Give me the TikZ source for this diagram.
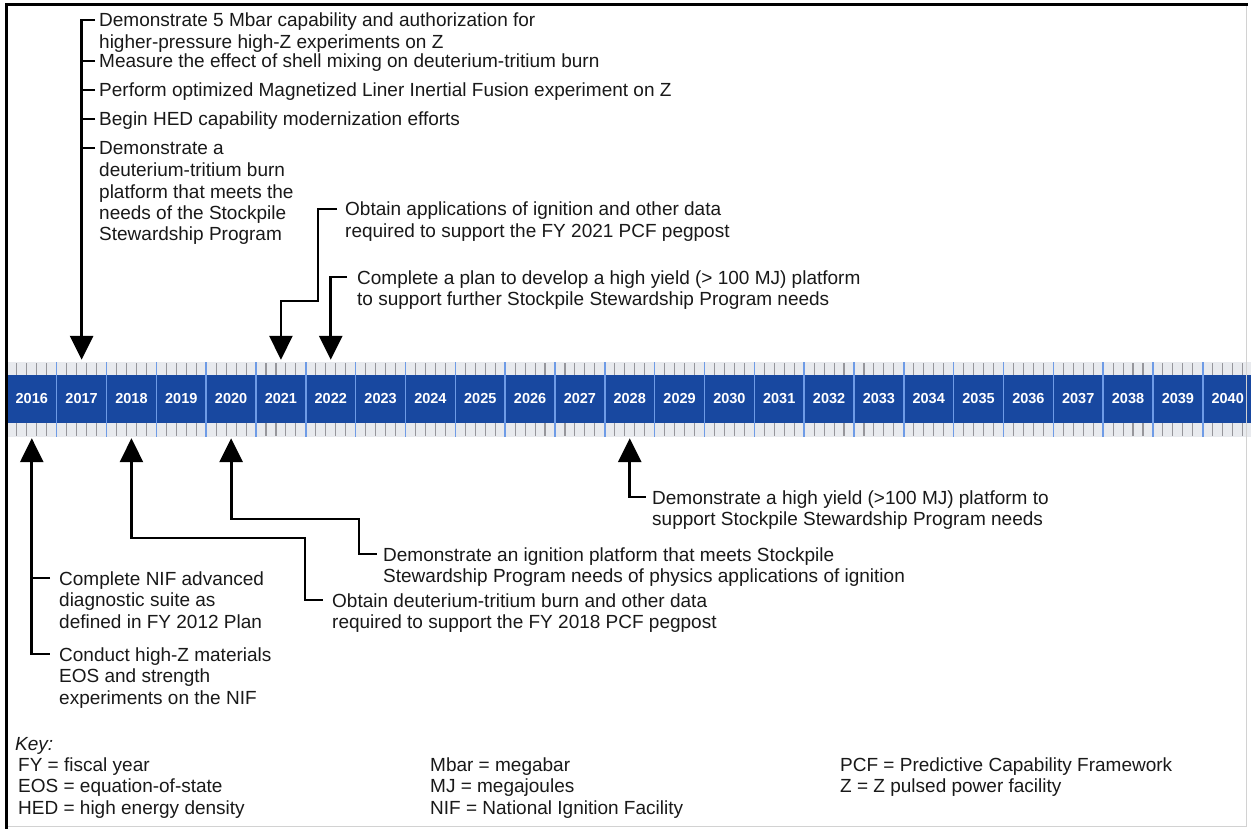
\documentclass[tikz,border=0pt]{standalone}
\usepackage{fontspec}
\setmainfont{Liberation Sans}
\usetikzlibrary{arrows.meta,calc}
\definecolor{barblue}{RGB}{24,72,160}
\definecolor{divblue}{RGB}{110,155,230}
\definecolor{inkc}{RGB}{25,25,25}
\definecolor{stripc}{RGB}{232,234,238}
\definecolor{tickc}{RGB}{150,150,155}
\begin{document}
\begin{tikzpicture}[x=1pt,y=-1pt,
  lbl/.style={anchor=north west, inner sep=0pt, align=left, text=inkc,
    font=\fontsize{19}{21.5}\selectfont, yshift=8.25pt},
  yearcell/.style={fill=barblue, text=white, inner sep=0pt,
    font=\fontsize{14.5}{16}\bfseries\selectfont,
    minimum width=49.83pt, minimum height=48pt},
  conn/.style={draw=black, line width=2.8pt, line join=miter},
  headend/.style={-{Triangle[length=24pt,width=23pt]}},
  headstart/.style={{Triangle[length=24pt,width=23pt]}-},
]
\useasboundingbox (0,0) rectangle (1251,829);
\fill[white] (0,0) rectangle (1251,829);

% tick strips above and below the year bar
\fill[stripc] (7,362) rectangle (1251,375);
\fill[stripc] (7,423) rectangle (1251,437);
\foreach \i in {0,...,24} {
  \foreach \k in {1,...,4} {
    \draw[tickc, line width=1.1pt] ({6.87+49.83*(\i+0.2*\k)},363) -- ++(0,12);
    \draw[tickc, line width=1.1pt] ({6.87+49.83*(\i+0.2*\k)},423) -- ++(0,13);
  }
}

% year cells
\foreach \i in {0,...,24} {
  \pgfmathtruncatemacro\yr{2016+\i}
  \node[yearcell] (y\yr) at ({6.87+49.83*(\i+0.5)},399) {\yr};
}
\foreach \i in {1,...,24}
  \draw[divblue, line width=1.5pt] ({6.87+49.83*\i},362) -- ({6.87+49.83*\i},437);

% arrow tip points
\foreach \yr in {2017,2021,2022}
  \coordinate (d\yr) at ($(y\yr.north)+(0,-15)$);
\foreach \yr in {2016,2018,2020,2028}
  \coordinate (u\yr) at ($(y\yr.south)+(0,15)$);

% milestones above the bar
\node[lbl] (T1) at (99,20) {\strut Demonstrate 5 Mbar capability and authorization for\\higher-pressure high-Z experiments on Z};
\node[lbl] (T2) at (99,61) {\strut Measure the effect of shell mixing on deuterium-tritium burn};
\node[lbl] (T3) at (99,90) {\strut Perform optimized Magnetized Liner Inertial Fusion experiment on Z};
\node[lbl] (T4) at (99,119) {\strut Begin HED capability modernization efforts};
\node[lbl] (T5) at (99,148) {\strut Demonstrate a\\deuterium-tritium burn\\platform that meets the\\needs of the Stockpile\\Stewardship Program};
\node[lbl] (T6) at (345,209) {\strut Obtain applications of ignition and other data\\required to support the FY 2021 PCF pegpost};
\node[lbl] (T7) at (357,277) {\strut Complete a plan to develop a high yield (> 100 MJ) platform\\to support further Stockpile Stewardship Program needs};

\foreach \n/\d in {T1/4,T2/4,T3/4,T4/4,T5/4,T6/8,T7/10}
  \coordinate (\n w) at ($(\n.north west)+(-\d,8.25)$);

\draw[conn,headend] (T1w) -| (d2017);
\foreach \n in {T2,T3,T4,T5}
  \draw[conn] (\n w) -- (\n w -| d2017);
\coordinate (e2021) at (318,301);
\draw[conn,headend] (T6w) -| (e2021) -| (d2021);
\draw[conn,headend] (T7w) -| (d2022);

% milestones below the bar
\node[lbl] (B1) at (652,497) {\strut Demonstrate a high yield (>100 MJ) platform to\\support Stockpile Stewardship Program needs};
\node[lbl] (B2) at (383,554) {\strut Demonstrate an ignition platform that meets Stockpile\\Stewardship Program needs of physics applications of ignition};
\node[lbl] (B3) at (332,600) {\strut Obtain deuterium-tritium burn and other data\\required to support the FY 2018 PCF pegpost};
\node[lbl] (B4) at (59,578) {\strut Complete NIF advanced\\diagnostic suite as\\defined in FY 2012 Plan};
\node[lbl] (B5) at (59,654) {\strut Conduct high-Z materials\\EOS and strength\\experiments on the NIF};

\foreach \n/\d in {B1/6,B2/6,B3/9,B4/9,B5/9}
  \coordinate (\n w) at ($(\n.north west)+(-\d,8.25)$);

\coordinate (e2020) at (359,519);
\coordinate (e2018) at (305,538);
\draw[conn,headstart] (u2028) |- (B1w);
\draw[conn,headstart] (u2020) |- (e2020) |- (B2w);
\draw[conn,headstart] (u2018) |- (e2018) |- (B3w);
\draw[conn,headstart] (u2016) |- (B5w);
\draw[conn] (B4w) -- (B4w -| u2016);

% key
\node[lbl] (K0) at (15,743) {\strut\itshape Key:};
\node[lbl] (K1) at (18,764) {\strut FY = fiscal year\\EOS = equation-of-state\\HED = high energy density};
\node[lbl] (K2) at (430,764) {\strut Mbar = megabar\\MJ = megajoules\\NIF = National Ignition Facility};
\node[lbl] (K3) at (840,764) {\strut PCF = Predictive Capability Framework\\Z = Z pulsed power facility};

% frame
\draw[gray!35, line width=0.8pt] (1246,6) -- (1246,826) -- (7,826);
\draw[line width=3pt] (6,829) -- (6,5) -- (1248,5);
\end{tikzpicture}
\end{document}
